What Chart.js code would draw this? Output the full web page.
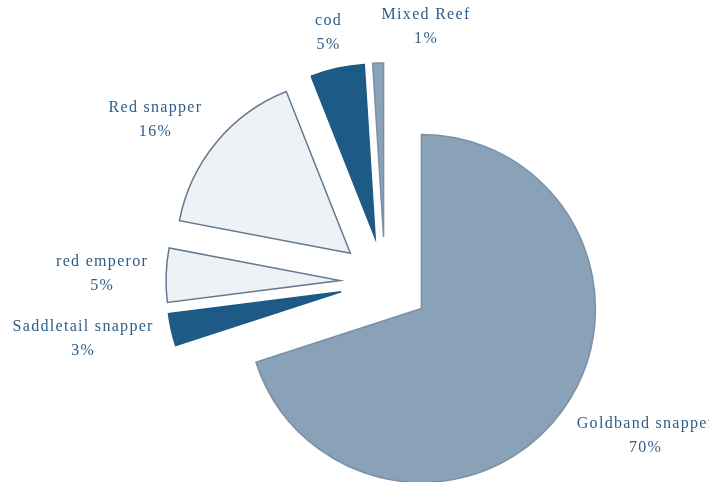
<!DOCTYPE html>
<html>
<head>
<meta charset="utf-8">
<script src="https://cdn.jsdelivr.net/npm/chart.js@4.4.1/dist/chart.umd.min.js"></script>
<style>
  html, body { margin: 0; padding: 0; background: #fff; }
  #wrap { width: 709px; height: 482px; }
</style>
</head>
<body>
<div id="wrap"><canvas id="fishChart"></canvas></div>
<script>
// catch share by species (percent)
const species = ['Goldband snapper', 'Saddletail snapper', 'red emperor', 'Red snapper', 'cod', 'Mixed Reef'];
const shares = [70, 3, 5, 16, 5, 1];

const fillColors = ['#8aa2b8', '#1d5a85', '#eef1f6', '#eef1f6', '#1d5a85', '#8aa2b8'];
const edgeColors = ['#7890a8', '#1d5a85', '#66798f', '#66798f', '#1d5a85', '#7890a8'];

const explode = 45;      // every slice pulled out from the centre by this much
const labelFont = '16px "Liberation Serif", serif';
const labelColor = '#2d5d8a';

// pull each slice out along its middle angle (chart.js offset also grows the radius, so do it by hand)
const explodeSlices = {
  id: 'explodeSlices',
  beforeDatasetsDraw(chart) {
    chart.getDatasetMeta(0).data.forEach(arc => {
      if (arc._exploded) return;
      const baseDraw = arc.draw;
      arc.draw = function (ctx, area) {
        const mid = (this.startAngle + this.endAngle) / 2;
        ctx.save();
        ctx.translate(Math.cos(mid) * explode, Math.sin(mid) * explode);
        baseDraw.call(this, ctx, area);
        ctx.restore();
      };
      arc._exploded = true;
    });
  }
};

const clamp = (v, lo, hi) => Math.max(lo, Math.min(hi, v));

// draws "name / xx%" outside each slice
const outsideLabels = {
  id: 'outsideLabels',
  afterDatasetsDraw(chart) {
    const ctx = chart.ctx;
    const meta = chart.getDatasetMeta(0);
    const total = shares.reduce((a, b) => a + b, 0);
    const lineH = 24;
    const gap = 18;
    let prevBox = null;
    ctx.save();
    ctx.font = labelFont;
    ctx.letterSpacing = '1.3px';
    ctx.fillStyle = labelColor;
    ctx.textAlign = 'center';
    ctx.textBaseline = 'middle';
    meta.data.forEach((arc, i) => {
      const p = arc.getProps(['x', 'y', 'startAngle', 'endAngle', 'outerRadius'], true);
      const mid = (p.startAngle + p.endAngle) / 2;
      const dx = Math.cos(mid), dy = Math.sin(mid);
      const dist = p.outerRadius + explode + gap;
      const ax = p.x + dx * dist;
      const ay = p.y + dy * dist;
      const lines = [species[i], Math.round(shares[i] / total * 100) + '%'];
      const w = Math.max(...lines.map(t => ctx.measureText(t).width));
      const h = lines.length * lineH;
      let cx = ax + clamp(dx * 1.6, -1, 1) * w / 2;
      let cy = ay + dy * h / 2 - Math.min(dy, 0) * 6;
      let box = { l: cx - w / 2, r: cx + w / 2, t: cy - h / 2, b: cy + h / 2 };
      // if it runs into the previous label, start it at the anchor instead
      if (prevBox && box.l < prevBox.r + 4 && box.r > prevBox.l && box.t < prevBox.b && box.b > prevBox.t) {
        cx = ax + w / 2 + 4;
        box = { l: cx - w / 2, r: cx + w / 2, t: cy - h / 2, b: cy + h / 2 };
      }
      prevBox = box;
      lines.forEach((t, k) => {
        ctx.fillText(t, cx, cy - h / 2 + lineH * (k + 0.5));
      });
    });
    ctx.restore();
  }
};

new Chart(document.getElementById('fishChart'), {
  type: 'pie',
  data: {
    labels: species,
    datasets: [{
      data: shares,
      backgroundColor: fillColors,
      borderColor: edgeColors,
      borderWidth: 1.5,
      borderJoinStyle: 'miter',
      clip: false
    }]
  },
  options: {
    responsive: true,
    maintainAspectRatio: false,
    animation: false,
    radius: 174,
    layout: { padding: { left: 61, right: 0, top: 82, bottom: 0 } },
    plugins: {
      legend: { display: false },
      tooltip: { enabled: false }
    }
  },
  plugins: [explodeSlices, outsideLabels]
});
</script>
</body>
</html>
